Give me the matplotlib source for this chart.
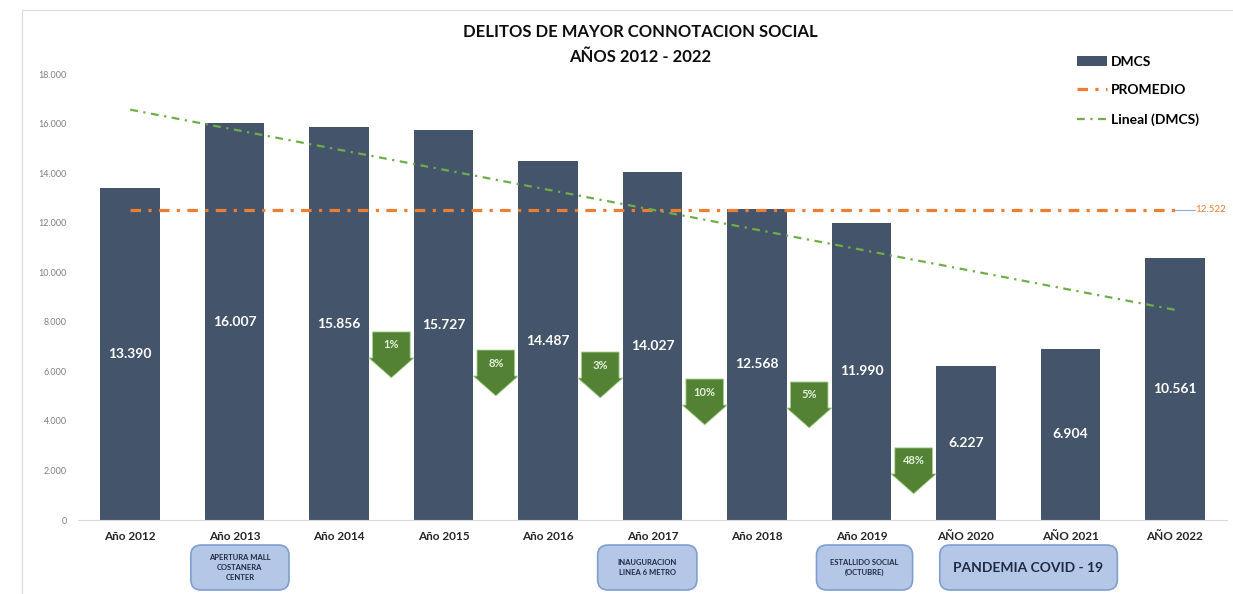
import numpy as np
import matplotlib
matplotlib.use("Agg")
import matplotlib.pyplot as plt
from matplotlib.patches import Polygon, FancyBboxPatch, Rectangle, Patch
from matplotlib.lines import Line2D
from matplotlib.transforms import blended_transform_factory

plt.rcParams['font.family'] = ['Lato', 'DejaVu Sans']

# data
years = ["Año 2012", "Año 2013", "Año 2014", "Año 2015", "Año 2016", "Año 2017",
         "Año 2018", "Año 2019", "AÑO 2020", "AÑO 2021", "AÑO 2022"]
dmcs = [13390, 16007, 15856, 15727, 14487, 14027, 12568, 11990, 6227, 6904, 10561]

# green arrows (between bars): position, top value, label
arrow_pos = [2.5, 3.5, 4.5, 5.5, 6.5, 7.5]
arrow_top = [7590, 6860, 6780, 5690, 5570, 2910]
arrow_pct = ["1%", "8%", "3%", "10%", "5%", "48%"]

# event boxes under the axis
event_text = ["APERTURA MALL\nCOSTANERA\nCENTER", "INAUGURACION\nLINEA 6 METRO",
              "ESTALLIDO SOCIAL\n(OCTUBRE)", "PANDEMIA COVID - 19"]
event_pos = [1.05, 4.95, 7.03, 8.6]
event_width = [0.94, 0.95, 0.92, 1.70]

BAR = "#44546a"
ORANGE = "#ed7d31"
GREEN = "#70ad47"

fig = plt.figure(figsize=(12.33, 5.94), dpi=100)
ax = fig.add_axes([78 / 1233, 74 / 594, (1227 - 78) / 1233, 446 / 594])

x = np.arange(len(years))
ax.bar(x, dmcs, width=0.57, color=BAR, zorder=2)

for xi, v in zip(x, dmcs):
    ax.text(xi, v / 2, f"{v:,}".replace(",", "."), ha="center", va="center",
            color="white", fontsize=10, fontweight="bold", zorder=4)

# average line
avg = np.mean(dmcs)
ax.plot([x[0], x[-1]], [avg, avg], color=ORANGE, lw=2.3,
        dashes=(3.3, 2.3, 1, 2.3), zorder=3)
ax.plot([x[-1], x[-1] + 0.19], [avg, avg], color="#8faadc", lw=0.8, zorder=3,
        clip_on=False)
ax.text(x[-1] + 0.2, avg, f"{avg:,.0f}".replace(",", "."), color=ORANGE,
        fontsize=7, va="center", ha="left", clip_on=False)

# linear trend
coef = np.polyfit(x, dmcs, 1)
ax.plot(x, np.polyval(coef, x), color=GREEN, lw=1.6,
        dashes=(3.5, 2.5, 1, 2.5), zorder=3)

# arrows
for p, top, lab in zip(arrow_pos, arrow_top, arrow_pct):
    bw, hw = 0.18, 0.215
    body, head = 1050, 800
    pts = [(p - bw, top), (p + bw, top), (p + bw, top - body), (p + hw, top - body),
           (p, top - body - head), (p - hw, top - body), (p - bw, top - body)]
    ax.add_patch(Polygon(pts, closed=True, facecolor="#548235",
                         edgecolor="#a9d18e", lw=0.6, zorder=5))
    ax.text(p, top - body / 2, lab, ha="center", va="center", color="#e2f0d9",
            fontsize=8, fontweight="bold", zorder=6)

ax.set_xlim(-0.5, len(years) - 0.5)
ax.set_ylim(0, 18000)
ax.set_yticks(range(0, 18001, 2000))
ax.set_yticklabels([f"{t:,}".replace(",", ".") for t in range(0, 18001, 2000)])
ax.set_xticks(x)
ax.set_xticklabels(years, fontweight="bold", fontsize=8.5, color="#262626")
ax.tick_params(axis="y", length=0, pad=8, labelsize=6.5, labelcolor="#808080")
ax.tick_params(axis="x", length=0, pad=8)
for s in ["top", "right", "left"]:
    ax.spines[s].set_visible(False)
ax.spines["bottom"].set_color("#d9d9d9")

# legend
handles = [Patch(facecolor=BAR, label="DMCS"),
           Line2D([], [], color=ORANGE, lw=2.3, dashes=(3.3, 2.3, 1, 2.3), label="PROMEDIO"),
           Line2D([], [], color=GREEN, lw=1.6, dashes=(3.5, 2.5, 1, 2.5), label="Lineal (DMCS)")]
leg = fig.legend(handles=handles, loc="upper left", bbox_to_anchor=(1064 / 1233, 1 - 43 / 594),
                 frameon=False, labelspacing=1.2, handlelength=2.2, handletextpad=0.3,
                 prop={"weight": "bold", "size": 10})

# title
fig.text(640 / 1233, 1 - 32 / 594, "DELITOS DE MAYOR CONNOTACION SOCIAL", ha="center",
         va="center", fontsize=12, fontweight="bold", color="#0d0d0d")
fig.text(640 / 1233, 1 - 57 / 594, "AÑOS 2012 - 2022", ha="center",
         va="center", fontsize=12, fontweight="bold", color="#0d0d0d")

# event boxes
tr = blended_transform_factory(ax.transData, fig.transFigure)
for txt, pos, w in zip(event_text, event_pos, event_width):
    y0, h = 4 / 594, 45 / 594
    box = FancyBboxPatch((pos - w / 2, y0), w, h, boxstyle="round,pad=0,rounding_size=0.1",
                         transform=tr, facecolor="#b4c7e7", edgecolor="#7f9fcf",
                         lw=1.2, clip_on=False, mutation_aspect=0.17)
    fig.add_artist(box)
    big = txt.startswith("PANDEMIA")
    fig.text(pos, y0 + h / 2, txt, transform=tr, ha="center", va="center",
             fontsize=10 if big else 5.5, fontweight="bold", color="#1f2a44",
             linespacing=1.5)

# outer frame
fig.add_artist(Rectangle((22 / 1233, -0.1), 1.1, 1 - 10 / 594 + 0.1,
                         transform=fig.transFigure, fill=False,
                         edgecolor="#d9d9d9", lw=0.8))

fig.savefig("out.png", dpi=100)
